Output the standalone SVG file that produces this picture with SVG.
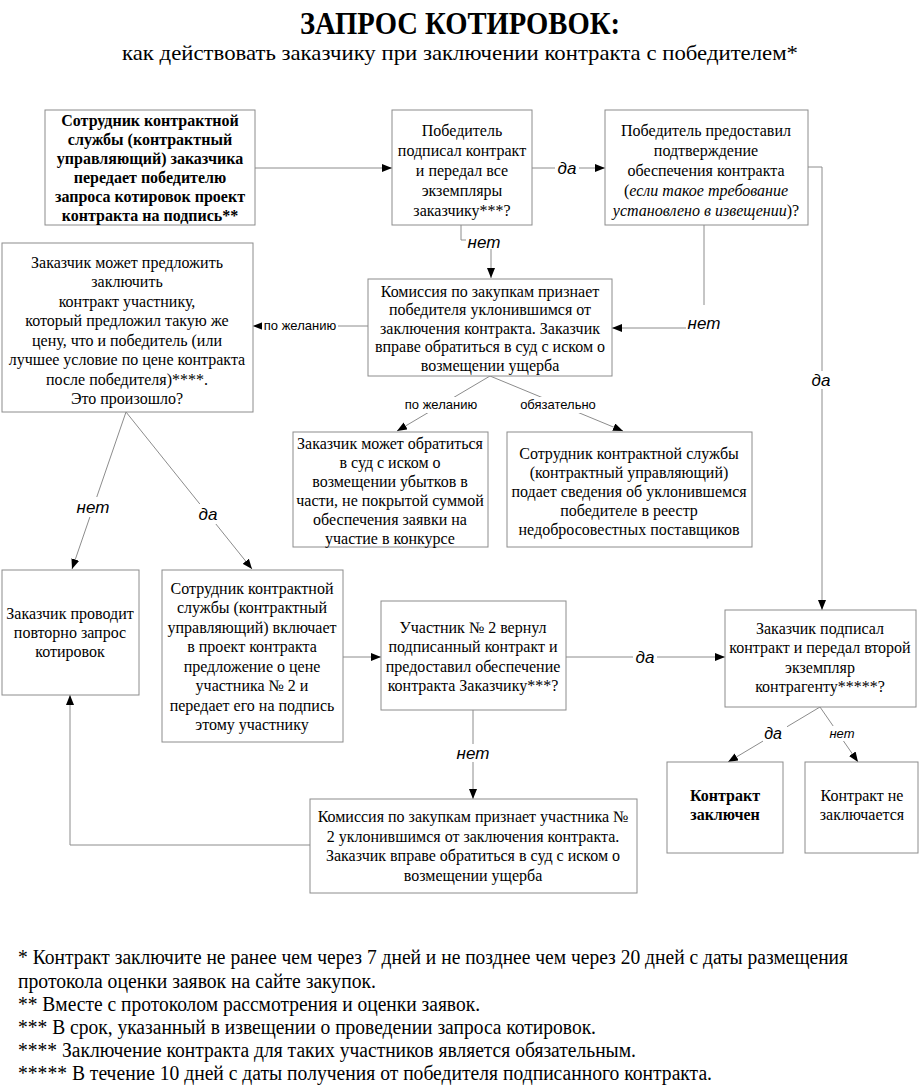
<svg xmlns="http://www.w3.org/2000/svg" width="920" height="1087" viewBox="0 0 920 1087">
<style>
.box{fill:#fff;stroke:#8c8c8c;stroke-width:1}
.t{font-family:"Liberation Serif",serif;font-size:16px;fill:#000;text-anchor:middle}
.b{font-weight:bold}
.i{font-style:italic}
.c{fill:none;stroke:#8c8c8c;stroke-width:1}
.lb{font-family:"Liberation Sans",Arial,sans-serif;font-size:17px;font-style:italic;fill:#000;text-anchor:middle}
.ls{font-family:"Liberation Sans",Arial,sans-serif;font-size:13px;fill:#000;text-anchor:middle}
.bg{fill:#fff}
.fn{font-family:"Liberation Serif",serif;font-size:20px;fill:#000}
</style>
<defs>
<marker id="ah" markerWidth="10" markerHeight="8" refX="10" refY="4" orient="auto" markerUnits="userSpaceOnUse">
<path d="M0,0 L10,4 L0,8 z" fill="#000"/>
</marker>
</defs>
<rect width="920" height="1087" fill="#fff"/>
<g id="heading">
<text x="460" y="34" style="font-family:'Liberation Serif',serif" font-size="31" font-weight="bold" text-anchor="middle" textLength="320" lengthAdjust="spacingAndGlyphs">ЗАПРОС КОТИРОВОК:</text>
<text x="460" y="60" style="font-family:'Liberation Serif',serif" font-size="22" text-anchor="middle" textLength="676" lengthAdjust="spacingAndGlyphs">как действовать заказчику при заключении контракта с победителем*</text>
</g>
<g id="connectors">
<path class="c" d="M255,168 H392" marker-end="url(#ah)"/>
<path class="c" d="M532,168 H605" marker-end="url(#ah)"/>
<path class="c" d="M808,167 H822 V610" marker-end="url(#ah)"/>
<path class="c" d="M704,225 V328 H612" marker-end="url(#ah)"/>
<path class="c" d="M461,225 V240 H491 V278" marker-end="url(#ah)"/>
<path class="c" d="M368,326 H253" marker-end="url(#ah)"/>
<path class="c" d="M490,376 L397,431" marker-end="url(#ah)"/>
<path class="c" d="M490,376 L623,431" marker-end="url(#ah)"/>
<path class="c" d="M126,412 L72,569" marker-end="url(#ah)"/>
<path class="c" d="M126,412 L252,569" marker-end="url(#ah)"/>
<path class="c" d="M343,657 H381" marker-end="url(#ah)"/>
<path class="c" d="M566,657 H725" marker-end="url(#ah)"/>
<path class="c" d="M473,710 V799" marker-end="url(#ah)"/>
<path class="c" d="M820,707 L728,762" marker-end="url(#ah)"/>
<path class="c" d="M820,707 L858,762" marker-end="url(#ah)"/>
<path class="c" d="M310,845 H70 V695" marker-end="url(#ah)"/>
<rect class="bg" x="555" y="159" width="24" height="18"/>
<text class="lb" x="567" y="174">да</text>
<rect class="bg" x="809" y="371" width="24" height="18"/>
<text class="lb" x="821" y="386">да</text>
<rect class="bg" x="686" y="305" width="36" height="30"/>
<text class="lb" x="704" y="329">нет</text>
<rect class="bg" x="466" y="233" width="36" height="16"/>
<text class="lb" x="484" y="248">нет</text>
<rect class="bg" x="262" y="318" width="76" height="16"/>
<text class="ls" x="300" y="330">по желанию</text>
<rect class="bg" x="403" y="397" width="76" height="16"/>
<text class="ls" x="441" y="409">по желанию</text>
<rect class="bg" x="519" y="397" width="78" height="16"/>
<text class="ls" x="558" y="409">обязательно</text>
<rect class="bg" x="75" y="497" width="36" height="20"/>
<text class="lb" x="93" y="513">нет</text>
<rect class="bg" x="196" y="504" width="24" height="20"/>
<text class="lb" x="208" y="520">да</text>
<rect class="bg" x="633" y="648" width="24" height="18"/>
<text class="lb" x="645" y="663">да</text>
<rect class="bg" x="455" y="744" width="36" height="18"/>
<text class="lb" x="473" y="759">нет</text>
<rect class="bg" x="763" y="724" width="24" height="18"/>
<text class="lb" x="773" y="739" style="font-size:16px">да</text>
<rect class="bg" x="828" y="726" width="28" height="15"/>
<text class="ls" x="842" y="738" style="font-style:italic">нет</text>
</g>
<g id="box1">
<rect class="box" x="45" y="110" width="210" height="115"/>
<text class="t b" style="font-family:'Liberation Serif',serif"><tspan x="150" y="126">Сотрудник контрактной</tspan><tspan x="150" y="145">службы (контрактный</tspan><tspan x="150" y="164">управляющий) заказчика</tspan><tspan x="150" y="183">передает победителю</tspan><tspan x="150" y="202">запроса котировок проект</tspan><tspan x="150" y="221">контракта на подпись**</tspan></text>
</g>
<g id="box2">
<rect class="box" x="392" y="110" width="140" height="115"/>
<text class="t" style="font-family:'Liberation Serif',serif"><tspan x="462" y="136">Победитель</tspan><tspan x="462" y="156">подписал контракт</tspan><tspan x="462" y="176">и передал все</tspan><tspan x="462" y="196">экземпляры</tspan><tspan x="462" y="216">заказчику***?</tspan></text>
</g>
<g id="box3">
<rect class="box" x="605" y="110" width="203" height="115"/>
<text class="t" style="font-family:'Liberation Serif',serif"><tspan x="706" y="136">Победитель предоставил</tspan><tspan x="706" y="156">подтверждение</tspan><tspan x="706" y="176">обеспечения контракта</tspan><tspan x="706" y="196">(<tspan class="i">если такое требование</tspan></tspan><tspan x="706" y="216"><tspan class="i">установлено в извещении</tspan>)?</tspan></text>
</g>
<g id="box4">
<rect class="box" x="368" y="279" width="244" height="97"/>
<text class="t" style="font-family:'Liberation Serif',serif"><tspan x="490" y="296.5">Комиссия по закупкам признает</tspan><tspan x="490" y="315">победителя уклонившимся от</tspan><tspan x="490" y="333.5">заключения контракта. Заказчик</tspan><tspan x="490" y="352">вправе обратиться в суд с иском о</tspan><tspan x="490" y="370.5">возмещении ущерба</tspan></text>
</g>
<g id="box5">
<rect class="box" x="2" y="243" width="251" height="169"/>
<text class="t" style="font-family:'Liberation Serif',serif"><tspan x="127" y="267.5">Заказчик может предложить</tspan><tspan x="127" y="287">заключить</tspan><tspan x="127" y="306.5">контракт участнику,</tspan><tspan x="127" y="326">который предложил такую же</tspan><tspan x="127" y="345.5">цену, что и победитель (или</tspan><tspan x="127" y="365">лучшее условие по цене контракта</tspan><tspan x="127" y="384.5">после победителя)****.</tspan><tspan x="127" y="404">Это произошло?</tspan></text>
</g>
<g id="box6">
<rect class="box" x="293" y="432" width="195" height="115"/>
<text class="t" style="font-family:'Liberation Serif',serif"><tspan x="390" y="448.5">Заказчик может обратиться</tspan><tspan x="390" y="467.5">в суд с иском о</tspan><tspan x="390" y="486.5">возмещении убытков в</tspan><tspan x="390" y="505.5">части, не покрытой суммой</tspan><tspan x="390" y="524.5">обеспечения заявки на</tspan><tspan x="390" y="543.5">участие в конкурсе</tspan></text>
</g>
<g id="box7">
<rect class="box" x="507" y="432" width="245" height="115"/>
<text class="t" style="font-family:'Liberation Serif',serif"><tspan x="629" y="458.5">Сотрудник контрактной службы</tspan><tspan x="629" y="477.5">(контрактный управляющий)</tspan><tspan x="629" y="496.5">подает сведения об уклонившемся</tspan><tspan x="629" y="515.5">победителе в реестр</tspan><tspan x="629" y="534.5">недобросовестных поставщиков</tspan></text>
</g>
<g id="box8">
<rect class="box" x="2" y="570" width="137" height="125"/>
<text class="t" style="font-family:'Liberation Serif',serif"><tspan x="70" y="619">Заказчик проводит</tspan><tspan x="70" y="638">повторно запрос</tspan><tspan x="70" y="657">котировок</tspan></text>
</g>
<g id="box9">
<rect class="box" x="162" y="570" width="181" height="172"/>
<text class="t" style="font-family:'Liberation Serif',serif"><tspan x="252" y="593.5">Сотрудник контрактной</tspan><tspan x="252" y="613">службы (контрактный</tspan><tspan x="252" y="632.5">управляющий) включает</tspan><tspan x="252" y="652">в проект контракта</tspan><tspan x="252" y="671.5">предложение о цене</tspan><tspan x="252" y="691">участника № 2 и</tspan><tspan x="252" y="710.5">передает его на подпись</tspan><tspan x="252" y="730">этому участнику</tspan></text>
</g>
<g id="box10">
<rect class="box" x="381" y="601" width="185" height="109"/>
<text class="t" style="font-family:'Liberation Serif',serif"><tspan x="473" y="632.5">Участник № 2 вернул</tspan><tspan x="473" y="652">подписанный контракт и</tspan><tspan x="473" y="671.5">предоставил обеспечение</tspan><tspan x="473" y="691">контракта Заказчику***?</tspan></text>
</g>
<g id="box11">
<rect class="box" x="725" y="610" width="191" height="97"/>
<text class="t" style="font-family:'Liberation Serif',serif"><tspan x="820" y="633.5">Заказчик подписал</tspan><tspan x="820" y="653">контракт и передал второй</tspan><tspan x="820" y="672.5">экземпляр</tspan><tspan x="820" y="692">контрагенту*****?</tspan></text>
</g>
<g id="box12">
<rect class="box" x="667" y="762" width="116" height="91"/>
<text class="t b" style="font-family:'Liberation Serif',serif"><tspan x="725" y="801">Контракт</tspan><tspan x="725" y="820">заключен</tspan></text>
</g>
<g id="box13">
<rect class="box" x="805" y="762" width="113" height="91"/>
<text class="t" style="font-family:'Liberation Serif',serif"><tspan x="862" y="801">Контракт не</tspan><tspan x="862" y="820">заключается</tspan></text>
</g>
<g id="box14">
<rect class="box" x="310" y="799" width="327" height="94"/>
<text class="t" style="font-family:'Liberation Serif',serif"><tspan x="473" y="822">Комиссия по закупкам признает участника №</tspan><tspan x="473" y="841.5">2 уклонившимся от заключения контракта.</tspan><tspan x="473" y="861">Заказчик вправе обратиться в суд с иском о</tspan><tspan x="473" y="880.5">возмещении ущерба</tspan></text>
</g>
<g id="notes">
<text class="fn" style="font-family:'Liberation Serif',serif" x="18" y="964" textLength="830" lengthAdjust="spacingAndGlyphs">* Контракт заключите не ранее чем через 7 дней и не позднее чем через 20 дней с даты размещения</text>
<text class="fn" style="font-family:'Liberation Serif',serif" x="18" y="988" textLength="358" lengthAdjust="spacingAndGlyphs">протокола оценки заявок на сайте закупок.</text>
<text class="fn" style="font-family:'Liberation Serif',serif" x="18" y="1011" textLength="462" lengthAdjust="spacingAndGlyphs">** Вместе с протоколом рассмотрения и оценки заявок.</text>
<text class="fn" style="font-family:'Liberation Serif',serif" x="18" y="1034" textLength="578" lengthAdjust="spacingAndGlyphs">*** В срок, указанный в извещении о проведении запроса котировок.</text>
<text class="fn" style="font-family:'Liberation Serif',serif" x="18" y="1057" textLength="618" lengthAdjust="spacingAndGlyphs">**** Заключение контракта для таких участников является обязательным.</text>
<text class="fn" style="font-family:'Liberation Serif',serif" x="18" y="1080" textLength="694" lengthAdjust="spacingAndGlyphs">***** В течение 10 дней с даты получения от победителя подписанного контракта.</text>
</g>
</svg>
